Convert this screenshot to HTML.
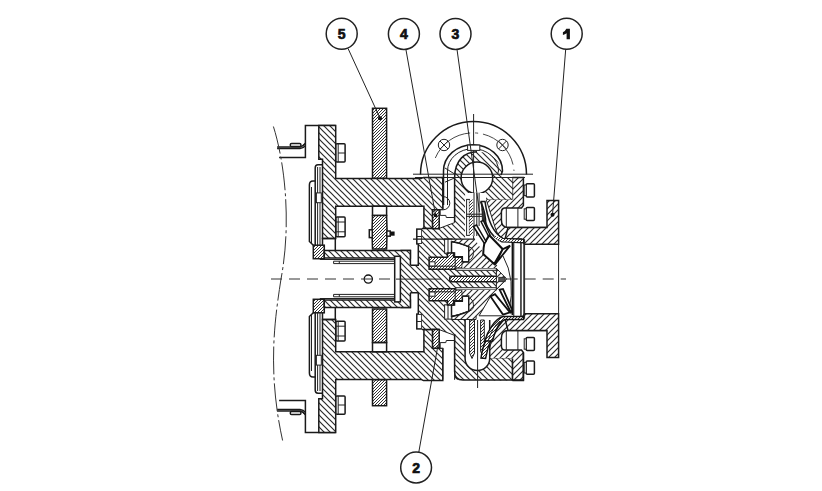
<!DOCTYPE html>
<html><head><meta charset="utf-8">
<style>
html,body{margin:0;padding:0;background:#fff;width:822px;height:491px;overflow:hidden}
svg{display:block}
.k{stroke:#1a1a1a;stroke-width:1.5;fill:none}
.kw{stroke:#1a1a1a;stroke-width:1.5;fill:#fff}
.t{stroke:#222;stroke-width:1;fill:none}
.tw{stroke:#222;stroke-width:1;fill:#fff}
.v{stroke:#111;stroke-width:1.8;fill:none}
.cl{stroke:#333;stroke-width:1;fill:none;stroke-dasharray:11 7}
.num{font-family:"Liberation Sans",sans-serif;font-weight:bold;font-size:14px;fill:#111;stroke:#111;stroke-width:0.7}
</style></head>
<body>
<svg width="822" height="491" viewBox="0 0 822 491">
<defs>
<pattern id="hA" patternUnits="userSpaceOnUse" width="6" height="6"><rect width="6" height="6" fill="#fff"/><path d="M0,0 L6,6 M-1,5 L1,7 M5,-1 L7,1" stroke="#2a2a2a" stroke-width="1.2"/></pattern>
<pattern id="hB" patternUnits="userSpaceOnUse" width="6" height="6"><rect width="6" height="6" fill="#fff"/><path d="M0,6 L6,0 M-1,1 L1,-1 M5,7 L7,5" stroke="#2a2a2a" stroke-width="1.2"/></pattern>
<pattern id="hD" patternUnits="userSpaceOnUse" width="3" height="3"><rect width="3" height="3" fill="#fff"/><path d="M0,3 L3,0 M-1,1 L1,-1 M2,4 L4,2" stroke="#333" stroke-width="1"/></pattern>
<pattern id="hDA" patternUnits="userSpaceOnUse" width="3" height="3"><rect width="3" height="3" fill="#fff"/><path d="M0,0 L3,3 M-1,2 L1,4 M2,-1 L4,1" stroke="#333" stroke-width="1"/></pattern>
</defs>

<!-- half.svg -->
<g>
  <rect class="kw" x="290.3" y="143.4" width="10.6" height="3.2" rx="1.3"/>
  <path class="k" d="M277.1,147 H300.5 Q303,146.5 305.4,143.3"/>
  <path class="k" d="M277.1,148.6 H300 Q303.5,148.2 305.4,145.6"/>
  <path class="t" d="M301,146.5 L304.5,144"/>
  <path class="k" d="M279.1,157.6 H305.4 V125.4 H335.7"/>
  <polygon class="k" style="fill:url(#hA)" points="318.8,125.4 335.7,125.4 335.7,178.6 421,178.6 423.5,177.4 442.8,177.4 442.8,209.8 432.6,209.8 432.6,228.6 423.9,228.6 423.9,206.2 335.7,206.2 335.7,238.5 322.5,238.5 322.5,159.3 318.8,159.3"/>
  <rect class="kw" x="335.9" y="143.7" width="9.2" height="18.4" rx="1"/>
  <path class="t" d="M338.2,143.7 V162.1 M338.2,153 H345.1"/>
  <rect class="kw" x="336" y="217.1" width="9.1" height="19.6" rx="1"/>
  <path class="t" d="M338.2,217.1 V236.7"/>
  <line class="t" x1="336" y1="222" x2="345.1" y2="222"/>
  <line class="t" x1="336" y1="231.8" x2="345.1" y2="231.8"/>
  <rect class="k" x="322.5" y="238.5" width="12.8" height="12.8"/>
  <rect class="k" style="fill:url(#hD)" x="313.3" y="245.2" width="11" height="13.5"/>
  <path class="k" d="M322.5,164.8 H318 Q315.2,164.8 315.2,168 V245.2"/>
  <path class="t" d="M317.6,167 V245 M320,167 V245"/>
  <path class="k" d="M315.2,181 H313 Q309.4,181 309.4,185 V241.5 L313.3,245.2"/>
  <path class="t" d="M311.5,187 V243"/>
  <rect class="tw" x="316.4" y="192.9" width="4.9" height="9.8"/>
  <polygon class="k" style="fill:url(#hA)" points="324.3,250.6 410.4,250.6 410.4,257.9 324.3,257.9"/>
  <path class="t" d="M319.8,259.5 H394.7 M333.6,261.2 H394.7 M333.6,263.6 H394.7 M339.3,261.2 V263.6 M333.6,261.2 V263.6"/>
  <rect class="kw" x="416.8" y="229.1" width="5.1" height="14.8"/>
  <line class="t" x1="416.8" y1="236.5" x2="421.9" y2="236.5"/>
  <path style="fill:url(#hB)" d="M486.1,199.3 H512.4 V177.5 H523.4 V205.4 L521.5,207.9 H504.4 Q501.4,208.5 501.4,212.2 V220 Q501.4,227.5 508,227.5 H547 V244.3 H524.6 L521.3,239.6 H505 Q498,237 495.3,228 L486.1,199.3 Z"/>
  <path class="k" d="M512.4,177.5 H523.4 V205.4 L521.5,207.9 H504.4 Q501.4,208.5 501.4,212.2 V220 Q501.4,227.5 508,227.5 H547"/>
  <path class="t" d="M486.1,199.3 H512.4 M486.1,199.3 L495.3,228 Q498,237 505,239.6 H521.3"/>
  <path class="t" d="M506.3,208 V227.5 M517.9,208 V227.5"/>
  <rect style="fill:url(#hA)" x="486.1" y="177.5" width="26.3" height="21.8"/>
  <line class="k" x1="512.4" y1="177.5" x2="512.4" y2="199.3"/>
  <path class="k" style="fill:url(#hB)" d="M508,227.5 H547 V200.6 H558.6 V244.3 H524.6 L521.3,239.1 H505 Z"/>
  <rect class="kw" x="526.2" y="183.8" width="8.2" height="13.1" rx="1"/>
  <rect class="tw" fill="#888" x="524.2" y="185" width="2" height="10.6"/>
  <rect class="kw" x="526.2" y="207.6" width="8.2" height="12.8" rx="1"/>
  <rect class="tw" fill="#888" x="524.2" y="208.8" width="2" height="10.4"/>
  <path class="t" d="M513.8,239.2 V279 M520.9,239.2 V279 M524.6,239.2 V279 M558.6,244.3 V279"/>
</g>

<g transform="matrix(1,0,0,-1,0,558)">
<g>
  <rect class="kw" x="290.3" y="143.4" width="10.6" height="3.2" rx="1.3"/>
  <path class="k" d="M277.1,147 H300.5 Q303,146.5 305.4,143.3"/>
  <path class="k" d="M277.1,148.6 H300 Q303.5,148.2 305.4,145.6"/>
  <path class="t" d="M301,146.5 L304.5,144"/>
  <path class="k" d="M279.1,157.6 H305.4 V125.4 H335.7"/>
  <polygon class="k" style="fill:url(#hB)" points="318.8,125.4 335.7,125.4 335.7,178.6 421,178.6 423.5,177.4 442.8,177.4 442.8,209.8 432.6,209.8 432.6,228.6 423.9,228.6 423.9,206.2 335.7,206.2 335.7,238.5 322.5,238.5 322.5,159.3 318.8,159.3"/>
  <rect class="kw" x="335.9" y="143.7" width="9.2" height="18.4" rx="1"/>
  <path class="t" d="M338.2,143.7 V162.1 M338.2,153 H345.1"/>
  <rect class="kw" x="336" y="217.1" width="9.1" height="19.6" rx="1"/>
  <path class="t" d="M338.2,217.1 V236.7"/>
  <line class="t" x1="336" y1="222" x2="345.1" y2="222"/>
  <line class="t" x1="336" y1="231.8" x2="345.1" y2="231.8"/>
  <rect class="k" x="322.5" y="238.5" width="12.8" height="12.8"/>
  <rect class="k" style="fill:url(#hDA)" x="313.3" y="245.2" width="11" height="13.5"/>
  <path class="k" d="M322.5,164.8 H318 Q315.2,164.8 315.2,168 V245.2"/>
  <path class="t" d="M317.6,167 V245 M320,167 V245"/>
  <path class="k" d="M315.2,181 H313 Q309.4,181 309.4,185 V241.5 L313.3,245.2"/>
  <path class="t" d="M311.5,187 V243"/>
  <rect class="tw" x="316.4" y="192.9" width="4.9" height="9.8"/>
  <polygon class="k" style="fill:url(#hB)" points="324.3,250.6 410.4,250.6 410.4,257.9 324.3,257.9"/>
  <path class="t" d="M319.8,259.5 H394.7 M333.6,261.2 H394.7 M333.6,263.6 H394.7 M339.3,261.2 V263.6 M333.6,261.2 V263.6"/>
  <rect class="kw" x="416.8" y="229.1" width="5.1" height="14.8"/>
  <line class="t" x1="416.8" y1="236.5" x2="421.9" y2="236.5"/>
  <path style="fill:url(#hA)" d="M486.1,199.3 H512.4 V177.5 H523.4 V205.4 L521.5,207.9 H504.4 Q501.4,208.5 501.4,212.2 V220 Q501.4,227.5 508,227.5 H547 V244.3 H524.6 L521.3,239.6 H505 Q498,237 495.3,228 L486.1,199.3 Z"/>
  <path class="k" d="M512.4,177.5 H523.4 V205.4 L521.5,207.9 H504.4 Q501.4,208.5 501.4,212.2 V220 Q501.4,227.5 508,227.5 H547"/>
  <path class="t" d="M486.1,199.3 H512.4 M486.1,199.3 L495.3,228 Q498,237 505,239.6 H521.3"/>
  <path class="t" d="M506.3,208 V227.5 M517.9,208 V227.5"/>
  <rect style="fill:url(#hB)" x="486.1" y="177.5" width="26.3" height="21.8"/>
  <line class="k" x1="512.4" y1="177.5" x2="512.4" y2="199.3"/>
  <path class="k" style="fill:url(#hA)" d="M508,227.5 H547 V200.6 H558.6 V244.3 H524.6 L521.3,239.1 H505 Z"/>
  <rect class="kw" x="526.2" y="183.8" width="8.2" height="13.1" rx="1"/>
  <rect class="tw" fill="#888" x="524.2" y="185" width="2" height="10.6"/>
  <rect class="kw" x="526.2" y="207.6" width="8.2" height="12.8" rx="1"/>
  <rect class="tw" fill="#888" x="524.2" y="208.8" width="2" height="10.4"/>
  <path class="t" d="M513.8,239.2 V279 M520.9,239.2 V279 M524.6,239.2 V279 M558.6,244.3 V279"/>
</g>

</g>

<!-- shaft.svg -->
<path style="fill:url(#hA)" d="M400.4,250.6 H410.4 V265.3 H465.1 V270.3 H497.2 V288.5 H465.1 V292.7 H410.4 V307.4 H400.4 Z"/>
<path class="k" d="M400.4,250.6 H410.4 V265.3 M400.4,307.4 H410.4 V292.7"/>
<rect class="kw" x="394.7" y="256.3" width="5.7" height="45.6"/>
<path class="t" d="M396,279.1 H441"/>
<circle fill="none" stroke="#111" stroke-width="1.3" cx="368.3" cy="279.1" r="4.1"/>

<!-- csym.svg -->
<g>
 <path style="fill:url(#hA)" d="M421.9,228.6 H439.2 L454.6,222.6 V178.2 H465.1 V266 H418.3 V243.9 H421.9 Z"/>
 <path class="k" d="M421.9,228.6 H439.2 M418.3,243.9 V265.3 H410.4"/>
 <path fill="#fff" d="M443.2,178.2 H454.6 V222.6 L439.2,228.2 V209.8 H443.2 Z"/>
 <path class="t" d="M443.2,178.2 V209.8 H439.2 M440.2,209.8 V215.4 H445.8 L446.3,217.5 H454.6 M454.6,178.2 V222.6 L439.2,228.4"/>
 <rect class="k" style="fill:url(#hD)" x="432.6" y="209.8" width="6.6" height="18.8"/>
 <rect class="tw" x="444.6" y="238.9" width="7.5" height="14.3"/>
 <path class="t" d="M448,238.9 V253.2"/>
 <path class="kw" d="M451.5,241.5 Q459,242.6 465.6,245.4 L468.8,246.7 V262 H462.3 V256.8 H454.5 V252.9 H451.5 Z"/>
 <path class="k" style="fill:url(#hD)" d="M429.1,269.2 V257.2 H447.5 V253.1 H453.6 V257.2 H462.3 V268.4 H455.2 V269.2 Z"/>
 <path class="t" d="M455.2,257.2 V268.4 M429.1,266.2 H455.2"/>
 <rect class="tw" x="429.6" y="261.8" width="5.4" height="4.2"/>
 <rect class="tw" x="455.9" y="268.1" width="40.5" height="2.2"/>
 <path class="k" style="fill:url(#hD)" d="M449.7,279 V278 Q449.7,276.2 451.7,276.2 H497.2 V279"/>
</g>

<g transform="matrix(1,0,0,-1,0,558)">
<g>
 <path style="fill:url(#hB)" d="M421.9,228.6 H439.2 L454.6,222.6 V178.2 H465.1 V266 H418.3 V243.9 H421.9 Z"/>
 <path class="k" d="M421.9,228.6 H439.2 M418.3,243.9 V265.3 H410.4"/>
 <path fill="#fff" d="M443.2,178.2 H454.6 V222.6 L439.2,228.2 V209.8 H443.2 Z"/>
 <path class="t" d="M443.2,178.2 V209.8 H439.2 M440.2,209.8 V215.4 H445.8 L446.3,217.5 H454.6 M454.6,178.2 V222.6 L439.2,228.4"/>
 <rect class="k" style="fill:url(#hDA)" x="432.6" y="209.8" width="6.6" height="18.8"/>
 <rect class="tw" x="444.6" y="238.9" width="7.5" height="14.3"/>
 <path class="t" d="M448,238.9 V253.2"/>
 <path class="kw" d="M451.5,241.5 Q459,242.6 465.6,245.4 L468.8,246.7 V262 H462.3 V256.8 H454.5 V252.9 H451.5 Z"/>
 <path class="k" style="fill:url(#hDA)" d="M429.1,269.2 V257.2 H447.5 V253.1 H453.6 V257.2 H462.3 V268.4 H455.2 V269.2 Z"/>
 <path class="t" d="M455.2,257.2 V268.4 M429.1,266.2 H455.2"/>
 <rect class="tw" x="429.6" y="261.8" width="5.4" height="4.2"/>
 <rect class="tw" x="455.9" y="268.1" width="40.5" height="2.2"/>
 <path class="k" style="fill:url(#hDA)" d="M449.7,279 V278 Q449.7,276.2 451.7,276.2 H497.2 V279"/>
</g>

</g>

<!-- ctop.svg -->
<g>
 <path class="t" d="M443.2,196.6 A6.6,6.6 0 0 1 443.2,209.8"/>
 <path style="fill:url(#hA)" d="M454.6,200 V177.9 C454.6,160 465,151.8 477,151.8 C492,151.8 502.6,162 502.6,177.5 H512.4 V199.3 H454.6 Z"/>
 <path class="k" d="M454.6,222 V177.9 C454.6,160 465,151.8 477,151.8"/>
 <circle class="kw" cx="476.9" cy="177.9" r="15.8"/>
 <path class="t" d="M413,174.2 H533 M415,177.5 H525 M473.6,114 V240"/>
 <path class="k" d="M420.5,174.5 A53,53 0 0 1 526.5,174.5"/>
 <circle class="t" cx="444" cy="145" r="5.7"/><path class="t" d="M440,141 L448,149 M448,141 L440,149"/>
 <circle class="t" cx="502.5" cy="145" r="5.7"/><path class="t" d="M498.5,141 L506.5,149 M506.5,141 L498.5,149"/>
 <path fill="none" stroke="#333" stroke-width="0.9" stroke-dasharray="45 5 3 5" d="M435.3,158 A41,41 0 0 1 514,171"/>
 <path class="k" d="M443.5,205 V171 A29.5,26.4 0 0 1 502.5,171 L501,175"/>
 <path class="t" d="M447.5,205 V171 A25.5,22.3 0 0 1 498.5,171 L497.5,174"/>
 <rect class="tw" x="467.6" y="145.1" width="12.2" height="5.3"/>
 <path class="t" d="M445,168 L454.6,174 M445,182.2 L454.6,177.9"/>
 <rect fill="#fff" x="465.1" y="193" width="21" height="43"/>
 <rect class="tw" x="466.6" y="199.4" width="2.8" height="36"/>
 <rect style="fill:url(#hD)" x="469.4" y="199.4" width="3.4" height="36"/>
 <path class="t" d="M474,193 V236 M476.8,193 V236 M479.1,193 V226 M466,214.2 H483 M466,216.4 H483"/>
 <path class="v" d="M480.7,201.5 Q486,214 485.6,224.7 Q487,232 490,236"/>
 <path fill="#333" d="M481.5,208 L484,214 L484.5,224 L482,224 Z"/>
</g>

<!-- cbot.svg -->
<g>
 <path style="fill:url(#hA)" d="M454.6,360 V371.5 Q454.6,380 463,380 H512.4 V358.7 H454.6 Z"/>
 <path class="k" d="M454.6,334 V371.5 Q454.6,380 463,380 H523.4 V352.6"/>
 <path class="k" d="M512.4,358.7 V380"/>
 <path class="kw" d="M465.1,320 V358.5 A12.3,12 0 0 0 489.7,358.5 V320"/>
 <path style="fill:url(#hD)" class="t" d="M469.6,320 V353 L472,358.5 L474.5,353 V320 Z"/>
 <path style="fill:url(#hD)" class="t" d="M480.6,320 V351 L482.4,356 L484.3,351 V320 Z"/>
 <path style="fill:url(#hB)" class="t" d="M451.9,316.8 L476.6,308.3 L476,319.5 H451.9 Z"/>
 <path class="t" d="M477.6,320 V388"/>
 <path style="fill:url(#hD)" stroke="#111" stroke-width="1.5" d="M481,358 Q484,335 501.3,318 L505,318 Q489,336 485.6,358.5 Z"/>
</g>

<!-- imp.svg -->
<g>
 <path style="fill:url(#hB)" d="M451.4,239.2 H475 L484.5,254.5 L494.7,262.7 L499.5,268.1 H462.3 V262 H468.8 V246.7 L465.6,245.4 Q459,242.6 451.5,241.5 Z"/>
 <path class="k" style="stroke-width:1.2" d="M413,239.2 H475"/>
  <path fill="#fff" class="k" d="M481.3,201.4 C483,222 489,236 502,241.7 L523.6,242.6 L523.6,239.4 L503,238.4 C493,233 487.5,220 485,201.4 Z"/>
 <path style="fill:url(#hD)" d="M494,237.5 Q498,240.5 502,241.2 L523,242 L523,240 L503,239 Q498,237.5 495,235.5 Z"/>
 <path fill="#333" d="M482.3,210 L484,210 L485,222 L483.5,222 Z"/>
 <path fill="#fff" stroke="#111" stroke-width="2" d="M489.3,235.2 L502.8,249.2 L494.2,263.9 L483.2,254.1 Q483.5,247 484.4,243.1 Z"/>
 <path fill="#fff" stroke="#111" stroke-width="1.5" d="M473.4,226.5 L476.5,225 L486,241.5 L484.4,243.5 Z"/>
 <path fill="#fff" stroke="#111" stroke-width="1.4" d="M481,221.5 L483.3,220.5 L489.8,234.5 L488.4,236 Z"/>
 <path fill="#fff" stroke="#111" stroke-width="1.8" d="M510.1,245.6 L494.5,265.1 L502.8,249.2 Z"/>
 <path fill="none" stroke="#111" stroke-width="1.8" d="M512.5,242 V315"/>
 <path class="t" d="M521,242 V317 M523.8,242 V317 M503,256 Q516,279 509,311"/>
 <path style="fill:url(#hB)" class="t" d="M496.4,268.3 L506.7,279 L496.4,289.7 Z"/>
 <rect fill="#555" stroke="#222" stroke-width="0.8" x="498.8" y="277.3" width="6.3" height="4.4"/>
 <path style="fill:url(#hB)" d="M462.3,289.9 H496.6 L490.5,296.4 L479.1,315.8 H451.4 V316.5 Q459,315.4 465.6,312.6 L468.8,311.3 V296 H462.3 Z"/>
 <path class="t" d="M490.5,296.4 L479.1,315.8 H501.9"/>
 <path fill="#fff" stroke="#111" stroke-width="1.8" d="M490.5,296.4 L495,294.1 L510,312.4 L503,314.6 Z"/>
 <path fill="#fff" stroke="#111" stroke-width="1.8" d="M499.6,289.6 L503,289 L512.2,310 L511,312.4 Z"/>
 <path style="fill:url(#hD)" stroke="#111" stroke-width="1.5" d="M484.8,341 C488,330 495,319 503,316.5 H523.6 V319.5 H505 Q497,323 492.5,341 Z"/>
 <path class="t" d="M488,341 Q493,326 500,321"/>
 <path class="k" style="stroke-width:1.3" d="M451.5,241.5 Q459,242.6 465.6,245.4 L468.8,246.7 V262 H462.3 M451.5,316.5 Q459,315.4 465.6,312.6 L468.8,311.3 V296 H462.3"/>
 <path class="t" d="M468.8,246.7 Q474.5,248.5 473.4,253.6 Q473,259 468.8,260.1 M468.8,311.3 Q474.5,309.5 473.4,304.4 Q473,299 468.8,297.9"/>
</g>

<!-- plate5.svg -->
<g>
<rect class="k" style="fill:url(#hD)" x="372.5" y="108.3" width="14.1" height="69.9"/>
<rect class="k" x="372.5" y="206.2" width="14.1" height="9.3"/>
<path class="k" style="fill:url(#hD)" d="M372.5,215.5 H386.6 Q387.6,232 386.6,249 H372.5 Q371.5,232 372.5,215.5 Z"/>
<rect class="k" style="fill:url(#hD)" x="372.5" y="309" width="14.1" height="33.5"/>
<rect class="k" x="372.5" y="342.5" width="14.1" height="9.3"/>
<rect class="k" style="fill:url(#hD)" x="372.5" y="379.8" width="14.1" height="25.9"/>
<rect class="kw" x="369.3" y="229.8" width="3" height="7.8"/>
<rect class="kw" x="386.8" y="231" width="3.4" height="5.2"/>
<rect fill="#111" x="390.2" y="231.5" width="4.4" height="4.2"/>
</g>

<!-- misc.svg -->
<path class="cl" d="M271,279 H394.7 M506.7,279 H566"/>
<path fill="none" stroke="#333" stroke-width="1" stroke-dasharray="28 3 3 3" d="M273.4,126.5 C284,160 292,220 281,279 C275,318 267,370 282.6,440.5"/>
<g>
<circle cx="341.7" cy="33.8" r="15.5" fill="#fff" stroke="#222" stroke-width="1.5"/>
<circle cx="403.9" cy="33.9" r="15.5" fill="#fff" stroke="#222" stroke-width="1.5"/>
<circle cx="455.5" cy="33.9" r="15.5" fill="#fff" stroke="#222" stroke-width="1.5"/>
<circle cx="566.7" cy="33.8" r="15.5" fill="#fff" stroke="#222" stroke-width="1.5"/>
<circle cx="416.1" cy="467.5" r="15.4" fill="#fff" stroke="#222" stroke-width="1.5"/>
<text class="num" x="341.7" y="39" text-anchor="middle">5</text>
<text class="num" x="403.9" y="39" text-anchor="middle">4</text>
<text class="num" x="455.5" y="39" text-anchor="middle">3</text>
<path fill="#111" d="M566.3,28.8 H569.9 V39.3 H566.6 V33.3 Q565,34.4 562.9,35 V32.2 Q565.4,31.2 566.3,28.8 Z"/>
<text class="num" x="416.1" y="472.7" text-anchor="middle">2</text>
<path class="t" d="M348.1,48.6 L380.2,118.5 M405.9,49.4 L435.6,215.4 M457,49.4 L479.5,212 M565.7,49.3 L552.5,214.8 M418.8,452.1 L438,345"/>
<circle cx="380" cy="118.3" r="2" fill="#111"/>
<circle cx="435.6" cy="215.4" r="1.8" fill="#111"/>
<circle cx="552.5" cy="214.8" r="2" fill="#111"/>
</g>

</svg>
</body></html>
